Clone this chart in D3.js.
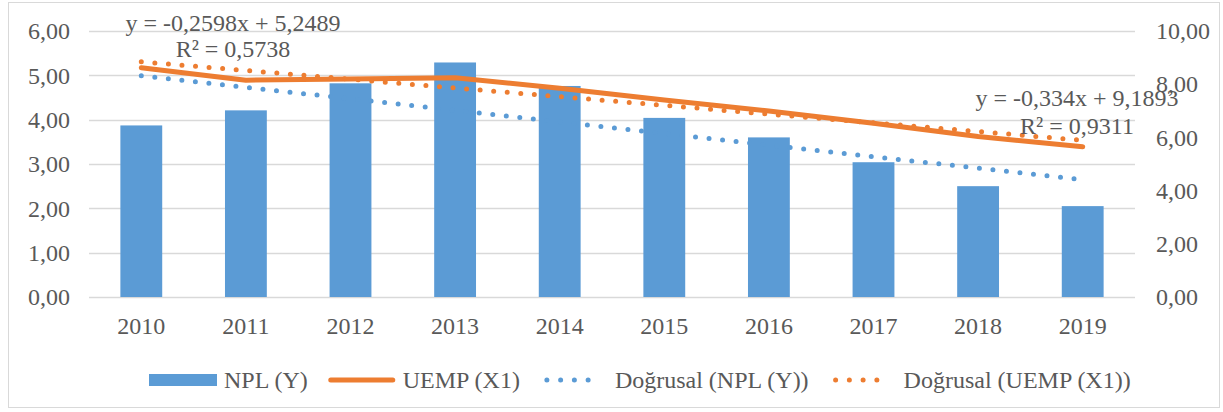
<!DOCTYPE html>
<html>
<head>
<meta charset="utf-8">
<script src="https://cdn.jsdelivr.net/npm/d3@7"></script>
<style>
  body { margin: 0; background: #fff; }
  text { font-family: "Liberation Serif", "Times New Roman", serif; fill: #595959; }
</style>
</head>
<body>
<div id="chart"></div>
<script>
// data
var years = ["2010", "2011", "2012", "2013", "2014", "2015", "2016", "2017", "2018", "2019"];
var npl = [3.87, 4.21, 4.82, 5.29, 4.76, 4.04, 3.60, 3.04, 2.50, 2.05];
var uemp = [8.62, 8.15, 8.20, 8.24, 7.85, 7.41, 6.99, 6.53, 6.03, 5.65];
var leftTicks = [0, 1, 2, 3, 4, 5, 6];
var rightTicks = [0, 2, 4, 6, 8, 10];
var legendNames = ["NPL (Y)", "UEMP (X1)", "Doğrusal (NPL (Y))", "Doğrusal (UEMP (X1))"];
var eqNpl = ["y = -0,2598x + 5,2489", "R² = 0,5738"];
var eqUemp = ["y = -0,334x + 9,1893", "R² = 0,9311"];

var W = 1223, H = 412;
var blue = "#5B9BD5", orange = "#ED7D31", grid = "#D9D9D9";

var svg = d3.select("#chart").append("svg")
    .attr("width", W)
    .attr("height", H);

svg.append("rect")
    .attr("x", 8.5).attr("y", 2.5)
    .attr("width", 1211).attr("height", 405)
    .attr("fill", "#fff")
    .attr("stroke", grid);

var x = d3.scaleBand().domain(years).range([89, 1135]).paddingInner(0.6).paddingOuter(0.3);
var yL = d3.scaleLinear().domain([0, 6]).range([297, 31]);
var yR = d3.scaleLinear().domain([0, 10]).range([297, 31]);
var cx = function(d){ return x(d) + x.bandwidth() / 2; };

function fmt(v){ return d3.format(".2f")(v).replace(".", ","); }

// gridlines
svg.append("g").selectAll("line")
    .data(leftTicks)
    .enter().append("line")
    .attr("x1", 89).attr("x2", 1135)
    .attr("y1", function(d){ return Math.round(yL(d)) + 0.5; })
    .attr("y2", function(d){ return Math.round(yL(d)) + 0.5; })
    .attr("stroke", grid)
    .attr("stroke-width", 1.5);

// axes
var axL = svg.append("g").attr("transform", "translate(70,0)")
    .call(d3.axisLeft(yL).tickValues(leftTicks).tickFormat(fmt).tickSize(0).tickPadding(0));
var axR = svg.append("g").attr("transform", "translate(1156,0)")
    .call(d3.axisRight(yR).tickValues(rightTicks).tickFormat(fmt).tickSize(0).tickPadding(0));
var axB = svg.append("g").attr("transform", "translate(0,297)")
    .call(d3.axisBottom(x).tickSize(0).tickPadding(20));
[axL, axR, axB].forEach(function(a){
    a.select(".domain").remove();
    a.selectAll("text").attr("font-size", 24).attr("fill", "#595959")
        .style("font-family", "'Liberation Serif', serif");
});

// bars
svg.append("g").selectAll("rect")
    .data(years)
    .enter().append("rect")
    .attr("x", function(d){ return x(d); })
    .attr("y", function(d, i){ return yL(npl[i]); })
    .attr("width", x.bandwidth())
    .attr("height", function(d, i){ return yL(0) - yL(npl[i]); })
    .attr("fill", blue);

// linear trend (least squares, x = 1..n)
function fit(vals){
    var n = vals.length, mx = (n + 1) / 2, my = d3.mean(vals), sxy = 0, sxx = 0;
    vals.forEach(function(v, i){ sxy += (i + 1 - mx) * (v - my); sxx += (i + 1 - mx) * (i + 1 - mx); });
    var b = sxy / sxx;
    return { b: b, a: my - b * mx };
}
var fN = fit(npl), fU = fit(uemp);

var dots = "0 13.6";

svg.append("path")
    .datum(years)
    .attr("d", d3.line().x(cx).y(function(d, i){ return yL(fN.a + fN.b * (i + 1)); }))
    .attr("fill", "none").attr("stroke", blue)
    .attr("stroke-width", 5).attr("stroke-linecap", "round")
    .attr("stroke-dasharray", dots);

svg.append("path")
    .datum(years)
    .attr("d", d3.line().x(cx).y(function(d, i){ return yR(uemp[i]); }))
    .attr("fill", "none").attr("stroke", orange)
    .attr("stroke-width", 5).attr("stroke-linecap", "round").attr("stroke-linejoin", "round");

svg.append("path")
    .datum(years)
    .attr("d", d3.line().x(cx).y(function(d, i){ return yR(fU.a + fU.b * (i + 1)); }))
    .attr("fill", "none").attr("stroke", orange)
    .attr("stroke-width", 5).attr("stroke-linecap", "round")
    .attr("stroke-dasharray", dots);

// trend equations
function eq(lines, xc, ys){
    svg.append("g").selectAll("text")
        .data(lines)
        .enter().append("text")
        .attr("x", xc)
        .attr("y", function(d, i){ return ys[i]; })
        .attr("text-anchor", "middle")
        .attr("font-size", 24)
        .text(function(d){ return d; });
}
eq(eqNpl, 233, [31, 57]);
eq(eqUemp, 1077, [106, 134]);

// legend
var lg = svg.append("g");
var lx = 149, ly = 380;
legendNames.forEach(function(name, i){
    if (i == 0) {
        lg.append("rect").attr("x", lx).attr("y", ly - 6).attr("width", 68).attr("height", 12).attr("fill", blue);
    } else if (i == 1) {
        lg.append("line").attr("x1", lx + 3).attr("x2", lx + 65).attr("y1", ly).attr("y2", ly)
            .attr("stroke", orange).attr("stroke-width", 5).attr("stroke-linecap", "round");
    } else {
        lg.append("line").attr("x1", lx + 7).attr("x2", lx + 62).attr("y1", ly).attr("y2", ly)
            .attr("stroke", i == 2 ? blue : orange).attr("stroke-width", 5)
            .attr("stroke-linecap", "round").attr("stroke-dasharray", "0 13.75");
    }
    var t = lg.append("text")
        .attr("x", lx + 75).attr("y", ly + 8)
        .attr("font-size", 24)
        .text(name);
    lx = lx + 75 + t.node().getComputedTextLength() + 20;
});
</script>
</body>
</html>
